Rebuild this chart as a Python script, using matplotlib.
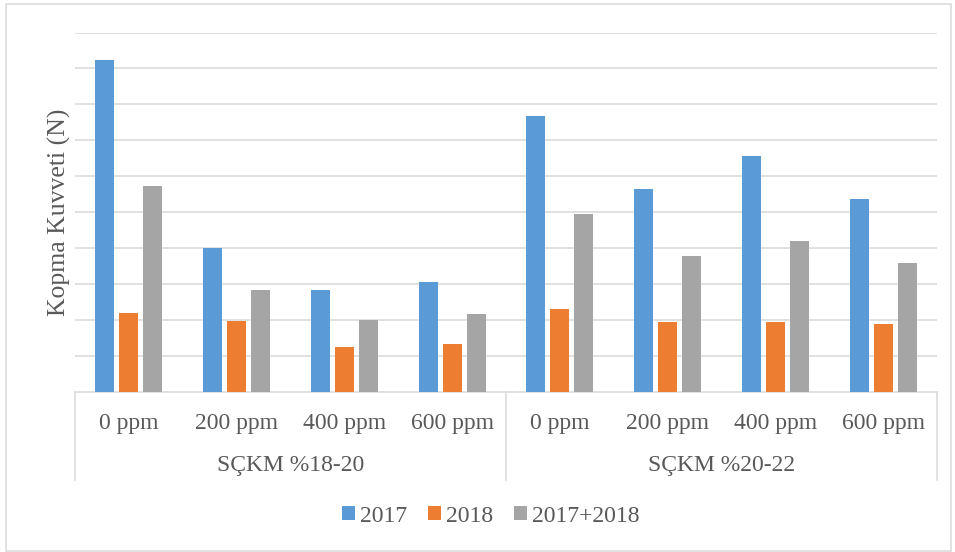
import numpy as np
import matplotlib.pyplot as plt
from matplotlib.patches import Rectangle, Patch

# Values (units = one gridline step, no y labels in source)
doses = ['0 ppm', '200 ppm', '400 ppm', '600 ppm']
groups = ['SÇKM %18-20', 'SÇKM %20-22']
y2017 = [9.24, 4.01, 2.85, 3.06, 7.69, 5.66, 6.56, 5.38]
y2018 = [2.19, 1.97, 1.24, 1.33, 2.30, 1.94, 1.94, 1.88]
y_both = [5.72, 2.85, 2.01, 2.16, 4.94, 3.79, 4.21, 3.60]
series_names = ['2017', '2018', '2017+2018']
colors = ['#5B9BD5', '#ED7D31', '#A5A5A5']

text_col = '#595959'
grid_col = '#D9D9D9'
plt.rcParams['font.family'] = ['Liberation Serif', 'DejaVu Serif']

W, H = 955, 552
fig = plt.figure(figsize=(W / 100, H / 100), dpi=100)

# plot area in pixels
left, right, top, base = 75, 937, 32.5, 392
ax = fig.add_axes([left / W, (H - base) / H, (right - left) / W, (base - top) / H])
ax_h = base - top

x = np.arange(len(y2017))
bw = 0.176
step = 0.223
for i, (vals, c) in enumerate(zip([y2017, y2018, y_both], colors)):
    ax.bar(x + (i - 1) * step, vals, width=bw, color=c, zorder=3)

ax.set_xlim(-0.5, len(x) - 0.5)
ax.set_ylim(0, 10)
ax.set_yticks(np.arange(1, 11))
ax.yaxis.grid(True, color=grid_col, linewidth=1.1, zorder=0)
ax.tick_params(left=False, labelleft=False, bottom=False, labelbottom=False)
for s in ['left', 'right', 'top']:
    ax.spines[s].set_visible(False)
ax.spines['bottom'].set_color(grid_col)
ax.spines['bottom'].set_linewidth(1.1)

ax.set_ylabel('Kopma Kuvveti (N)', fontsize=18.5, color=text_col, labelpad=3)

# multi-level category axis
tr = ax.get_xaxis_transform()
def py(px):
    return -(px - base) / ax_h

for xi in x:
    ax.text(xi, py(423), doses[xi % 4], transform=tr, ha='center', va='center',
            fontsize=17, color=text_col)
for g, name in enumerate(groups):
    ax.text(g * 4 + 1.5, py(466), name, transform=tr, ha='center', va='center',
            fontsize=17, color=text_col)
for xv in [-0.5, 3.5, 7.5]:
    ax.plot([xv, xv], [0, py(480)], transform=tr, color=grid_col, lw=1.1, clip_on=False)

handles = [Patch(facecolor=c, label=n) for c, n in zip(colors, series_names)]
leg = fig.legend(handles=handles, loc='center', bbox_to_anchor=(491 / W, 1 - 516 / H),
                 ncol=3, frameon=False, fontsize=17, handlelength=0.55, handleheight=0.55,
                 handletextpad=0.2, columnspacing=0.9, borderpad=0)
for t in leg.get_texts():
    t.set_color(text_col)

# chart area border
fig.patches.append(Rectangle((6 / W, 1 - 551 / H), 945 / W, 547 / H, transform=fig.transFigure,
                             fill=False, edgecolor=grid_col, linewidth=1.1))

fig.savefig('out.png', dpi=100)
